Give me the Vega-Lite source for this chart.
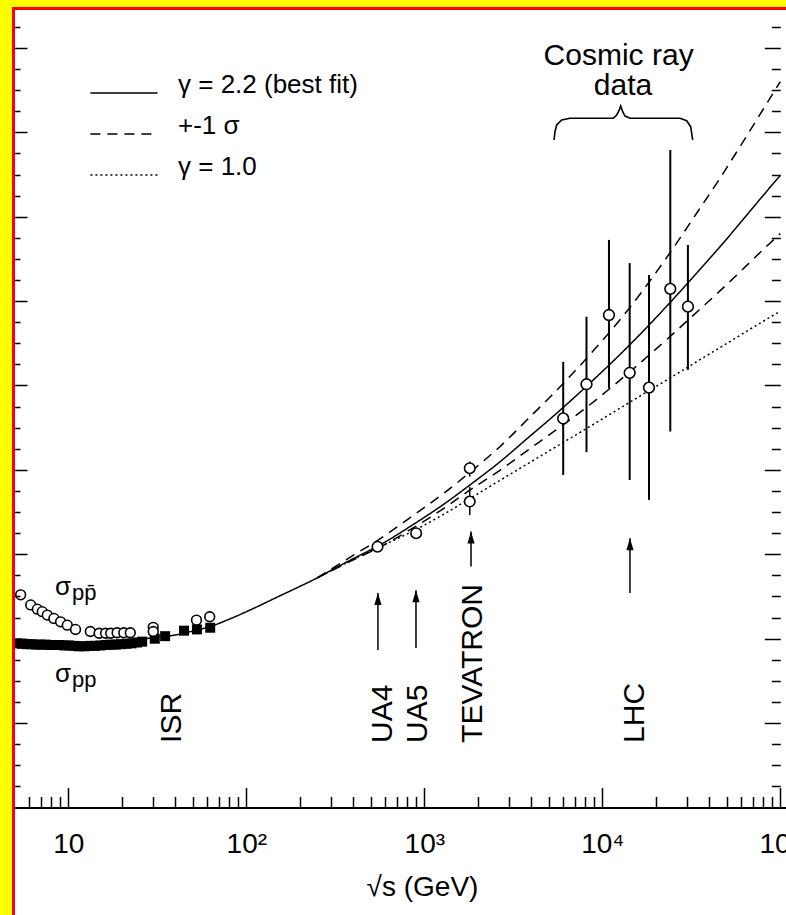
{
  "$schema": "https://vega.github.io/schema/vega-lite/v6.json",
  "width": 773,
  "height": 907,
  "autosize": {"type": "none"},
  "padding": {"left": 13, "top": 8, "right": 0, "bottom": 0},
  "background": "#ffff00",
  "config": {
    "font": "Liberation Sans",
    "view": {"fill": "white", "stroke": null},
    "axis": {"grid": false}
  },
  "datasets": {
    "fits": [
      {"curve": "best", "lab": "γ = 2.2 (best fit)", "x": 25, "y": 39.9},
      {"curve": "best", "lab": "γ = 2.2 (best fit)", "x": 30, "y": 40.2},
      {"curve": "best", "lab": "γ = 2.2 (best fit)", "x": 40, "y": 40.9},
      {"curve": "best", "lab": "γ = 2.2 (best fit)", "x": 50, "y": 41.8},
      {"curve": "best", "lab": "γ = 2.2 (best fit)", "x": 65, "y": 43.1},
      {"curve": "best", "lab": "γ = 2.2 (best fit)", "x": 80, "y": 44.6},
      {"curve": "best", "lab": "γ = 2.2 (best fit)", "x": 105, "y": 46.8},
      {"curve": "best", "lab": "γ = 2.2 (best fit)", "x": 150, "y": 49.9},
      {"curve": "best", "lab": "γ = 2.2 (best fit)", "x": 200, "y": 52.4},
      {"curve": "best", "lab": "γ = 2.2 (best fit)", "x": 250, "y": 54.4},
      {"curve": "best", "lab": "γ = 2.2 (best fit)", "x": 300, "y": 56.2},
      {"curve": "best", "lab": "γ = 2.2 (best fit)", "x": 400, "y": 59.0},
      {"curve": "best", "lab": "γ = 2.2 (best fit)", "x": 546, "y": 61.9},
      {"curve": "best", "lab": "γ = 2.2 (best fit)", "x": 900, "y": 67.5},
      {"curve": "best", "lab": "γ = 2.2 (best fit)", "x": 1300, "y": 72.0},
      {"curve": "best", "lab": "γ = 2.2 (best fit)", "x": 1800, "y": 76.4},
      {"curve": "best", "lab": "γ = 2.2 (best fit)", "x": 2658, "y": 81.9},
      {"curve": "best", "lab": "γ = 2.2 (best fit)", "x": 4000, "y": 88.3},
      {"curve": "best", "lab": "γ = 2.2 (best fit)", "x": 5070, "y": 92.0},
      {"curve": "best", "lab": "γ = 2.2 (best fit)", "x": 8143, "y": 99.8},
      {"curve": "best", "lab": "γ = 2.2 (best fit)", "x": 14230, "y": 109.6},
      {"curve": "best", "lab": "γ = 2.2 (best fit)", "x": 23850, "y": 119.5},
      {"curve": "best", "lab": "γ = 2.2 (best fit)", "x": 35000, "y": 127.3},
      {"curve": "best", "lab": "γ = 2.2 (best fit)", "x": 45500, "y": 132.7},
      {"curve": "best", "lab": "γ = 2.2 (best fit)", "x": 60000, "y": 138.7},
      {"curve": "best", "lab": "γ = 2.2 (best fit)", "x": 80000, "y": 145.0},
      {"curve": "best", "lab": "γ = 2.2 (best fit)", "x": 100000, "y": 149.8},
      {"curve": "up", "lab": "+-1 σ", "x": 250, "y": 54.4},
      {"curve": "up", "lab": "+-1 σ", "x": 400, "y": 59.8},
      {"curve": "up", "lab": "+-1 σ", "x": 546, "y": 63.3},
      {"curve": "up", "lab": "+-1 σ", "x": 900, "y": 69.7},
      {"curve": "up", "lab": "+-1 σ", "x": 1300, "y": 74.6},
      {"curve": "up", "lab": "+-1 σ", "x": 1800, "y": 79.4},
      {"curve": "up", "lab": "+-1 σ", "x": 2658, "y": 85.5},
      {"curve": "up", "lab": "+-1 σ", "x": 4000, "y": 92.9},
      {"curve": "up", "lab": "+-1 σ", "x": 5070, "y": 97.2},
      {"curve": "up", "lab": "+-1 σ", "x": 8143, "y": 106.4},
      {"curve": "up", "lab": "+-1 σ", "x": 14230, "y": 118.4},
      {"curve": "up", "lab": "+-1 σ", "x": 23850, "y": 131.3},
      {"curve": "up", "lab": "+-1 σ", "x": 35000, "y": 141.7},
      {"curve": "up", "lab": "+-1 σ", "x": 45500, "y": 148.9},
      {"curve": "up", "lab": "+-1 σ", "x": 60000, "y": 156.9},
      {"curve": "up", "lab": "+-1 σ", "x": 80000, "y": 165.4},
      {"curve": "up", "lab": "+-1 σ", "x": 100000, "y": 172.0},
      {"curve": "lo", "lab": "+-1 σ", "x": 250, "y": 54.4},
      {"curve": "lo", "lab": "+-1 σ", "x": 400, "y": 58.7},
      {"curve": "lo", "lab": "+-1 σ", "x": 546, "y": 61.4},
      {"curve": "lo", "lab": "+-1 σ", "x": 900, "y": 66.7},
      {"curve": "lo", "lab": "+-1 σ", "x": 1300, "y": 71.0},
      {"curve": "lo", "lab": "+-1 σ", "x": 1800, "y": 75.2},
      {"curve": "lo", "lab": "+-1 σ", "x": 2658, "y": 79.9},
      {"curve": "lo", "lab": "+-1 σ", "x": 4000, "y": 85.3},
      {"curve": "lo", "lab": "+-1 σ", "x": 5070, "y": 88.4},
      {"curve": "lo", "lab": "+-1 σ", "x": 8143, "y": 94.8},
      {"curve": "lo", "lab": "+-1 σ", "x": 14230, "y": 103.2},
      {"curve": "lo", "lab": "+-1 σ", "x": 23850, "y": 111.5},
      {"curve": "lo", "lab": "+-1 σ", "x": 35000, "y": 117.9},
      {"curve": "lo", "lab": "+-1 σ", "x": 45500, "y": 122.3},
      {"curve": "lo", "lab": "+-1 σ", "x": 60000, "y": 127.1},
      {"curve": "lo", "lab": "+-1 σ", "x": 80000, "y": 132.2},
      {"curve": "lo", "lab": "+-1 σ", "x": 100000, "y": 136.0},
      {"curve": "g1", "lab": "γ = 1.0", "x": 250, "y": 54.4},
      {"curve": "g1", "lab": "γ = 1.0", "x": 400, "y": 58.8},
      {"curve": "g1", "lab": "γ = 1.0", "x": 546, "y": 61.5},
      {"curve": "g1", "lab": "γ = 1.0", "x": 900, "y": 65.9},
      {"curve": "g1", "lab": "γ = 1.0", "x": 1300, "y": 69.6},
      {"curve": "g1", "lab": "γ = 1.0", "x": 1800, "y": 73.2},
      {"curve": "g1", "lab": "γ = 1.0", "x": 2658, "y": 77.5},
      {"curve": "g1", "lab": "γ = 1.0", "x": 4000, "y": 82.0},
      {"curve": "g1", "lab": "γ = 1.0", "x": 5070, "y": 84.6},
      {"curve": "g1", "lab": "γ = 1.0", "x": 8143, "y": 89.8},
      {"curve": "g1", "lab": "γ = 1.0", "x": 14230, "y": 96.0},
      {"curve": "g1", "lab": "γ = 1.0", "x": 23850, "y": 101.7},
      {"curve": "g1", "lab": "γ = 1.0", "x": 35000, "y": 106.0},
      {"curve": "g1", "lab": "γ = 1.0", "x": 45500, "y": 108.9},
      {"curve": "g1", "lab": "γ = 1.0", "x": 60000, "y": 112.0},
      {"curve": "g1", "lab": "γ = 1.0", "x": 80000, "y": 115.2},
      {"curve": "g1", "lab": "γ = 1.0", "x": 100000, "y": 117.6}
    ],
    "ppbar_low": [
      {"x": 5.40, "y": 50.4}, {"x": 6.15, "y": 48.0}, {"x": 6.70, "y": 47.0},
      {"x": 7.14, "y": 46.4}, {"x": 7.62, "y": 45.6}, {"x": 8.30, "y": 44.8},
      {"x": 9.05, "y": 44.0}, {"x": 9.87, "y": 43.2}, {"x": 10.98, "y": 42.2},
      {"x": 13.3, "y": 41.7}, {"x": 14.9, "y": 41.3}, {"x": 16.2, "y": 41.3},
      {"x": 17.3, "y": 41.3}, {"x": 18.8, "y": 41.4}, {"x": 20.5, "y": 41.4},
      {"x": 22.3, "y": 41.4}, {"x": 30.0, "y": 42.7}, {"x": 30.0, "y": 41.7},
      {"x": 52.5, "y": 44.4}, {"x": 62.3, "y": 45.2}
    ],
    "pp": [
      {"x": 5.15, "y": 38.9}, {"x": 5.5, "y": 38.8}, {"x": 5.85, "y": 38.7},
      {"x": 6.2, "y": 38.7}, {"x": 6.6, "y": 38.6}, {"x": 7.0, "y": 38.6},
      {"x": 7.45, "y": 38.6}, {"x": 7.9, "y": 38.5}, {"x": 8.4, "y": 38.5},
      {"x": 8.9, "y": 38.5}, {"x": 9.5, "y": 38.4}, {"x": 10.1, "y": 38.4},
      {"x": 10.8, "y": 38.3}, {"x": 11.5, "y": 38.2}, {"x": 12.3, "y": 38.2},
      {"x": 13.2, "y": 38.3}, {"x": 14.1, "y": 38.3}, {"x": 15.1, "y": 38.4},
      {"x": 16.2, "y": 38.5}, {"x": 17.3, "y": 38.6}, {"x": 18.5, "y": 38.6},
      {"x": 19.8, "y": 38.7}, {"x": 21.2, "y": 38.8}, {"x": 22.7, "y": 38.9},
      {"x": 24.3, "y": 39.1}, {"x": 26.0, "y": 39.3}, {"x": 30.6, "y": 40.0},
      {"x": 35.0, "y": 40.6}, {"x": 44.7, "y": 41.9}, {"x": 52.8, "y": 42.2},
      {"x": 62.7, "y": 42.6}
    ],
    "collider": [
      {"x": 546, "y": 61.8, "lo": 61.0, "hi": 62.6},
      {"x": 900, "y": 65.0, "lo": 64.3, "hi": 65.7},
      {"x": 1800, "y": 72.5, "lo": 69.3, "hi": 76.0},
      {"x": 1800, "y": 80.4, "lo": 78.4, "hi": 82.0}
    ],
    "cosmic": [
      {"x": 6030, "y": 92.2, "lo": 78.8, "hi": 105.6},
      {"x": 8150, "y": 100.3, "lo": 84.2, "hi": 116.3},
      {"x": 10900, "y": 116.7, "lo": 99.3, "hi": 134.5},
      {"x": 14250, "y": 103.0, "lo": 77.6, "hi": 129.0},
      {"x": 18300, "y": 99.5, "lo": 72.9, "hi": 126.2},
      {"x": 24100, "y": 122.9, "lo": 89.1, "hi": 155.8},
      {"x": 30270, "y": 118.7, "lo": 103.7, "hi": 133.3}
    ],
    "arrows": [
      {"x": 549, "y": 37.3, "y2": 50.8},
      {"x": 898, "y": 37.8, "y2": 51.5},
      {"x": 1830, "y": 57.1, "y2": 65.4},
      {"x": 14300, "y": 50.8, "y2": 63.8}
    ],
    "facility": [
      {"x": 38.2, "y": 15.3, "text": "ISR"},
      {"x": 586, "y": 15.3, "text": "UA4"},
      {"x": 922, "y": 15.3, "text": "UA5"},
      {"x": 1878, "y": 15.3, "text": "TEVATRON"},
      {"x": 15265, "y": 15.3, "text": "LHC"}
    ],
    "cosmic_label": [
      {"x": 12350, "y": 175.95, "text": "Cosmic ray"},
      {"x": 13070, "y": 168.84, "text": "data"}
    ],
    "brace": [
      {"x": 5354, "y": 158.18}, {"x": 5424, "y": 160.14}, {"x": 5543, "y": 161.73},
      {"x": 5914, "y": 162.91}, {"x": 6585, "y": 163.32}, {"x": 11530, "y": 163.32},
      {"x": 12045, "y": 164.10}, {"x": 12460, "y": 165.29}, {"x": 12688, "y": 166.23},
      {"x": 13021, "y": 164.88}, {"x": 13414, "y": 163.86}, {"x": 14307, "y": 163.32},
      {"x": 27330, "y": 163.32}, {"x": 29800, "y": 162.75}, {"x": 31380, "y": 161.33},
      {"x": 32200, "y": 158.18}
    ],
    "sigma": [
      {"x": 8.42, "y": 50.36, "text": "σ"},
      {"x": 8.42, "y": 29.81, "text": "σ"}
    ],
    "sigma_sub": [
      {"x": 10.49, "y": 49.17, "text": "pp̄"},
      {"x": 10.49, "y": 28.63, "text": "pp"}
    ]
  },
  "resolve": {"axis": {"x": "independent", "y": "independent"}},
  "layer": [
    {
      "data": {"name": "fits"},
      "mark": {"type": "line", "interpolate": "monotone", "color": "black", "strokeWidth": 1.5},
      "encoding": {
        "x": {
          "field": "x", "type": "quantitative",
          "scale": {"type": "log", "domain": [4.8904, 107650], "nice": false},
          "axis": {
            "orient": "bottom", "offset": -107.5, "zindex": 1,
            "values": [6, 7, 8, 9, 10, 20, 30, 40, 50, 60, 70, 80, 90, 100, 200, 300, 400, 500, 600, 700, 800, 900, 1000, 2000, 3000, 4000, 5000, 6000, 7000, 8000, 9000, 10000, 20000, 30000, 40000, 50000, 60000, 70000, 80000, 90000, 100000],
            "labelExpr": "datum.value == 10 ? '10' : datum.value == 100 ? '10²' : datum.value == 1000 ? '10³' : datum.value == 10000 ? '10⁴' : datum.value == 100000 ? '10⁵' : ''",
            "labelFont": "Liberation Sans", "labelFontSize": 28, "labelColor": "black",
            "labelPadding": 43, "labelFlush": false, "labelOverlap": false, "labelBound": false,
            "tickColor": "black", "tickWidth": 1.5,
            "tickSize": {"condition": {"test": "indexof([10,100,1000,10000,100000], datum.value) >= 0", "value": -20}, "value": -11},
            "domainColor": "black", "domainWidth": 2,
            "title": "√s (GeV)", "titleFont": "Liberation Sans", "titleFontSize": 28, "titleFontWeight": "normal",
            "titleColor": "black", "titleX": 409, "titleY": 87.5, "titleAlign": "center", "titleBaseline": "alphabetic",
            "grid": false
          }
        },
        "y": {
          "field": "y", "type": "quantitative",
          "scale": {"domain": [-25.474, 189.455], "nice": false, "zero": false},
          "axis": {
            "orient": "left", "zindex": 2,
            "values": [5, 10, 15, 20, 25, 30, 35, 40, 45, 50, 55, 60, 65, 70, 75, 80, 85, 90, 95, 100, 105, 110, 115, 120, 125, 130, 135, 140, 145, 150, 155, 160, 165, 170, 175, 180, 185],
            "labels": false, "title": null, "grid": false,
            "domainColor": "red", "domainWidth": 3, "domainCap": "square",
            "tickColor": "black", "tickWidth": 1.5,
            "tickSize": {"condition": {"test": "datum.value % 20 === 0", "value": -14}, "value": -7}
          }
        },
        "detail": {"field": "curve"},
        "strokeDash": {
          "field": "lab", "type": "nominal",
          "scale": {"domain": ["γ = 2.2 (best fit)", "+-1 σ", "γ = 1.0"], "range": [[1, 0], [10, 7], [2, 3]]},
          "legend": {
            "orient": "none", "legendX": 98, "legendY": 72, "title": null, "padding": 0,
            "symbolType": "M-5.6,0L5.6,0", "symbolSize": 144, "symbolStrokeColor": "black", "symbolStrokeWidth": 1.5,
            "labelFont": "Liberation Sans", "labelFontSize": 26, "labelColor": "black", "labelBaseline": "alphabetic",
            "labelOffset": 41, "rowPadding": 15, "labelLimit": 400
          }
        }
      }
    },
    {
      "mark": {"type": "rule", "color": "black", "strokeWidth": 1.5},
      "encoding": {
        "x": {
          "datum": 100000, "type": "quantitative",
          "scale": {"type": "log", "domain": [4.8904, 107650], "nice": false},
          "axis": {"orient": "top", "zindex": 2, "domainColor": "red", "domainWidth": 3, "domainCap": "square", "ticks": false, "labels": false, "title": null, "grid": false}
        },
        "y": {
          "datum": 0, "type": "quantitative",
          "scale": {"domain": [-25.474, 189.455], "nice": false, "zero": false},
          "axis": {
            "orient": "right", "offset": -5.7, "zindex": 1,
            "values": [5, 10, 15, 20, 25, 30, 35, 40, 45, 50, 55, 60, 65, 70, 75, 80, 85, 90, 95, 100, 105, 110, 115, 120, 125, 130, 135, 140, 145, 150, 155, 160, 165, 170, 175, 180, 185],
            "labels": false, "title": null, "grid": false, "domain": false,
            "tickColor": "black", "tickWidth": 1.5,
            "tickSize": {"condition": {"test": "datum.value % 20 === 0", "value": -16}, "value": -9}
          }
        },
        "y2": {"datum": 189.455}
      }
    },
    {
      "data": {"name": "pp"},
      "mark": {"type": "point", "shape": "square", "filled": true, "color": "black", "size": 100, "opacity": 1},
      "encoding": {
        "x": {"field": "x", "type": "quantitative", "scale": {"type": "log", "domain": [4.8904, 107650], "nice": false}, "axis": null},
        "y": {"field": "y", "type": "quantitative", "scale": {"domain": [-25.474, 189.455], "nice": false, "zero": false}, "axis": null}
      }
    },
    {
      "data": {"name": "ppbar_low"},
      "mark": {"type": "point", "shape": "circle", "filled": true, "fill": "white", "stroke": "black", "strokeWidth": 1.6, "size": 95, "opacity": 1},
      "encoding": {
        "x": {"field": "x", "type": "quantitative", "scale": {"type": "log", "domain": [4.8904, 107650], "nice": false}, "axis": null},
        "y": {"field": "y", "type": "quantitative", "scale": {"domain": [-25.474, 189.455], "nice": false, "zero": false}, "axis": null}
      }
    },
    {
      "data": {"name": "collider"},
      "mark": {"type": "rule", "color": "black", "strokeWidth": 1.5},
      "encoding": {
        "x": {"field": "x", "type": "quantitative", "scale": {"type": "log", "domain": [4.8904, 107650], "nice": false}, "axis": null},
        "y": {"field": "lo", "type": "quantitative", "scale": {"domain": [-25.474, 189.455], "nice": false, "zero": false}, "axis": null},
        "y2": {"field": "hi"}
      }
    },
    {
      "data": {"name": "collider"},
      "mark": {"type": "point", "shape": "circle", "filled": true, "fill": "white", "stroke": "black", "strokeWidth": 1.6, "size": 110, "opacity": 1},
      "encoding": {
        "x": {"field": "x", "type": "quantitative", "scale": {"type": "log", "domain": [4.8904, 107650], "nice": false}, "axis": null},
        "y": {"field": "y", "type": "quantitative", "scale": {"domain": [-25.474, 189.455], "nice": false, "zero": false}, "axis": null}
      }
    },
    {
      "data": {"name": "cosmic"},
      "mark": {"type": "rule", "color": "black", "strokeWidth": 2},
      "encoding": {
        "x": {"field": "x", "type": "quantitative", "scale": {"type": "log", "domain": [4.8904, 107650], "nice": false}, "axis": null},
        "y": {"field": "lo", "type": "quantitative", "scale": {"domain": [-25.474, 189.455], "nice": false, "zero": false}, "axis": null},
        "y2": {"field": "hi"}
      }
    },
    {
      "data": {"name": "cosmic"},
      "mark": {"type": "point", "shape": "circle", "filled": true, "fill": "white", "stroke": "black", "strokeWidth": 1.6, "size": 115, "opacity": 1},
      "encoding": {
        "x": {"field": "x", "type": "quantitative", "scale": {"type": "log", "domain": [4.8904, 107650], "nice": false}, "axis": null},
        "y": {"field": "y", "type": "quantitative", "scale": {"domain": [-25.474, 189.455], "nice": false, "zero": false}, "axis": null}
      }
    },
    {
      "data": {"name": "arrows"},
      "mark": {"type": "rule", "color": "black", "strokeWidth": 1.5},
      "encoding": {
        "x": {"field": "x", "type": "quantitative", "scale": {"type": "log", "domain": [4.8904, 107650], "nice": false}, "axis": null},
        "y": {"field": "y", "type": "quantitative", "scale": {"domain": [-25.474, 189.455], "nice": false, "zero": false}, "axis": null},
        "y2": {"field": "y2"}
      }
    },
    {
      "data": {"name": "arrows"},
      "mark": {"type": "point", "shape": "M0,0L0.6,2L-0.6,2Z", "filled": true, "color": "black", "size": 144, "opacity": 1},
      "encoding": {
        "x": {"field": "x", "type": "quantitative", "scale": {"type": "log", "domain": [4.8904, 107650], "nice": false}, "axis": null},
        "y": {"field": "y2", "type": "quantitative", "scale": {"domain": [-25.474, 189.455], "nice": false, "zero": false}, "axis": null}
      }
    },
    {
      "data": {"name": "facility"},
      "mark": {"type": "text", "angle": 270, "align": "left", "baseline": "middle", "fontSize": 30, "font": "Liberation Sans", "color": "black"},
      "encoding": {
        "x": {"field": "x", "type": "quantitative", "scale": {"type": "log", "domain": [4.8904, 107650], "nice": false}, "axis": null},
        "y": {"field": "y", "type": "quantitative", "scale": {"domain": [-25.474, 189.455], "nice": false, "zero": false}, "axis": null},
        "text": {"field": "text"}
      }
    },
    {
      "data": {"name": "cosmic_label"},
      "mark": {"type": "text", "align": "center", "baseline": "alphabetic", "fontSize": 30, "font": "Liberation Sans", "color": "black"},
      "encoding": {
        "x": {"field": "x", "type": "quantitative", "scale": {"type": "log", "domain": [4.8904, 107650], "nice": false}, "axis": null},
        "y": {"field": "y", "type": "quantitative", "scale": {"domain": [-25.474, 189.455], "nice": false, "zero": false}, "axis": null},
        "text": {"field": "text"}
      }
    },
    {
      "data": {"name": "brace"},
      "mark": {"type": "line", "color": "black", "strokeWidth": 1.6},
      "encoding": {
        "x": {"field": "x", "type": "quantitative", "scale": {"type": "log", "domain": [4.8904, 107650], "nice": false}, "axis": null},
        "y": {"field": "y", "type": "quantitative", "scale": {"domain": [-25.474, 189.455], "nice": false, "zero": false}, "axis": null}
      }
    },
    {
      "data": {"name": "sigma"},
      "mark": {"type": "text", "align": "left", "baseline": "alphabetic", "fontSize": 26, "font": "Liberation Sans", "color": "black"},
      "encoding": {
        "x": {"field": "x", "type": "quantitative", "scale": {"type": "log", "domain": [4.8904, 107650], "nice": false}, "axis": null},
        "y": {"field": "y", "type": "quantitative", "scale": {"domain": [-25.474, 189.455], "nice": false, "zero": false}, "axis": null},
        "text": {"field": "text"}
      }
    },
    {
      "data": {"name": "sigma_sub"},
      "mark": {"type": "text", "align": "left", "baseline": "alphabetic", "fontSize": 22, "font": "Liberation Sans", "color": "black"},
      "encoding": {
        "x": {"field": "x", "type": "quantitative", "scale": {"type": "log", "domain": [4.8904, 107650], "nice": false}, "axis": null},
        "y": {"field": "y", "type": "quantitative", "scale": {"domain": [-25.474, 189.455], "nice": false, "zero": false}, "axis": null},
        "text": {"field": "text"}
      }
    }
  ]
}
